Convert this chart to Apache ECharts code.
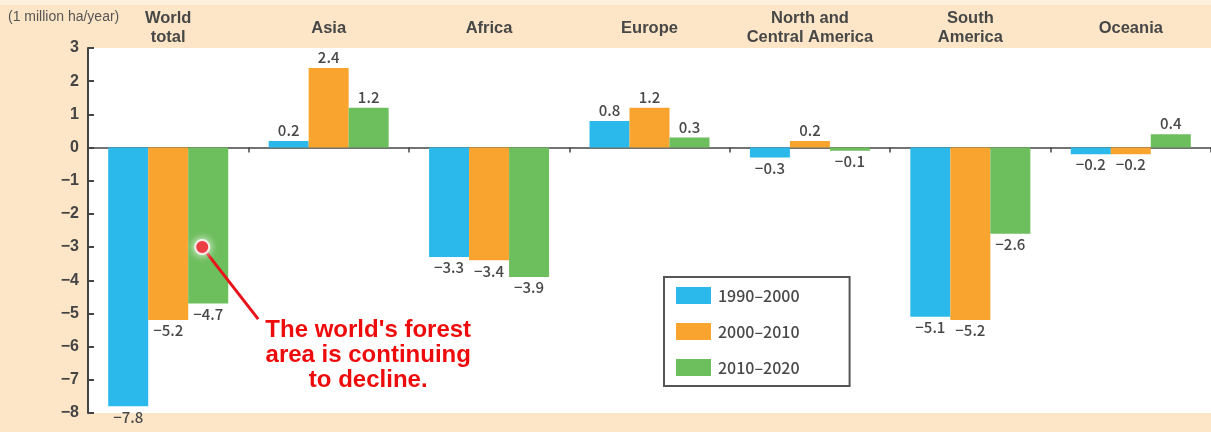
<!DOCTYPE html>
<html>
<head>
<meta charset="utf-8">
<script src="https://cdn.jsdelivr.net/npm/echarts@6/dist/echarts.min.js"></script>
<style>
  html, body { margin: 0; padding: 0; background: #fde6c7; }
  #chart { width: 1211px; height: 432px; }
</style>
</head>
<body>
<div id="chart"></div>
<script>
// Annual net change in forest area by region (million ha per year)
const regions = ['World\ntotal', 'Asia', 'Africa', 'Europe', 'North and\nCentral America', 'South\nAmerica', 'Oceania'];
const periods = ['1990–2000', '2000–2010', '2010–2020'];
const change1990 = [-7.8, 0.2, -3.3, 0.8, -0.3, -5.1, -0.2];
const change2000 = [-5.2, 2.4, -3.4, 1.2, 0.2, -5.2, -0.2];
const change2010 = [-4.7, 1.2, -3.9, 0.3, -0.1, -2.6, 0.4];
const yTicks = { min: -8, max: 3, step: 1 };
const unitLabel = '(1 million ha/year)';
const calloutText = "The world's forest\narea is continuing\nto decline.";
const calloutValue = -3; // point on the world-total 2010–2020 bar

const colors = ['#2bb8ea', '#f8a42e', '#6dbe5c'];
const seriesValues = [change1990, change2000, change2010];

const fmt = v => (v < 0 ? '−' + Math.abs(v) : String(v));

const chart = echarts.init(document.getElementById('chart'));

const series = periods.map((name, i) => ({
  name,
  type: 'bar',
  xAxisIndex: 0,
  barWidth: 40,
  barGap: '0%',
  itemStyle: { color: colors[i] },
  data: seriesValues[i].map(v => ({
    value: v,
    label: { position: v >= 0 ? 'top' : 'bottom' }
  })),
  label: {
    show: true,
    distance: 3,
    color: '#484848',
    fontFamily: 'Noto Sans CJK JP',
    fontWeight: 500,
    fontSize: 15,
    formatter: p => fmt(p.value)
  }
}));

chart.setOption({
  backgroundColor: '#fde6c7',
  animation: false,
  grid: {
    left: 88, right: 0, top: 48, bottom: 19,
    show: true, backgroundColor: '#ffffff', borderWidth: 0
  },
  xAxis: [
    {
      type: 'category',
      data: regions,
      position: 'bottom',
      axisLine: { onZero: true, lineStyle: { color: '#444', width: 1.5 } },
      axisTick: { show: true, length: 5, lineStyle: { color: '#444', width: 1.5 } },
      axisLabel: { show: false }
    },
    {
      type: 'category',
      data: regions,
      position: 'top',
      axisLine: { show: false, onZero: false },
      axisTick: { show: false },
      axisLabel: {
        margin: 20,
        verticalAlign: 'middle',
        color: '#474747',
        fontFamily: 'Liberation Sans',
        fontWeight: 'bold',
        fontSize: 16.5,
        lineHeight: 19,
        interval: 0
      }
    }
  ],
  yAxis: {
    type: 'value',
    min: yTicks.min, max: yTicks.max, interval: yTicks.step,
    axisLine: { show: true, onZero: false, lineStyle: { color: '#444', width: 2 } },
    axisTick: { show: true, inside: true, length: 6, lineStyle: { color: '#444', width: 2 } },
    splitLine: { show: false },
    axisLabel: {
      margin: 9,
      color: '#444',
      fontFamily: 'Liberation Sans',
      fontWeight: 'bold',
      fontSize: 16,
      formatter: v => fmt(v)
    }
  },
  legend: {
    orient: 'vertical',
    left: 664, top: 277,
    padding: [10, 50, 10, 12],
    itemWidth: 35, itemHeight: 17, itemGap: 19,
    backgroundColor: '#ffffff',
    borderColor: '#555',
    borderWidth: 2,
    icon: 'rect',
    textStyle: { color: '#484848', fontFamily: 'Noto Sans CJK JP', fontWeight: 500, fontSize: 16, padding: [0, 0, 0, 2] },
    data: periods
  },
  series
});

// Unit caption, top band strip and callout, placed from the chart's own scales
function drawExtras() {
  const dot = chart.convertToPixel({ xAxisIndex: 0, yAxisIndex: 0 }, [regions[0], calloutValue]);
  const dotX = dot[0] + 34;
  const dotY = dot[1];
  chart.setOption({
    graphic: [
      { type: 'rect', z: -1, shape: { x: 0, y: 0, width: 1211, height: 5 }, style: { fill: '#fdf1de' } },
      {
        type: 'text', left: 8, top: 10,
        style: { text: unitLabel, fill: '#555', font: '14px "Liberation Sans"' }
      },
      {
        type: 'line', z: 10,
        shape: { x1: dotX, y1: dotY, x2: dotX + 56, y2: dotY + 72 },
        style: { stroke: '#e8131b', lineWidth: 3 }
      },
      {
        type: 'circle', z: 11,
        shape: { cx: dotX, cy: dotY, r: 7 },
        style: { fill: '#e8131b', stroke: 'rgba(255,255,255,0.85)', lineWidth: 2, shadowBlur: 8, shadowColor: 'rgba(255,255,255,1)' }
      },
      {
        type: 'text', z: 11,
        x: dotX + 166, y: dotY + 71,
        style: {
          text: calloutText,
          fill: '#ee0b0b',
          font: 'bold 24px "Liberation Sans"',
          lineHeight: 25,
          align: 'center',
          verticalAlign: 'top'
        }
      }
    ]
  });
}
drawExtras();
</script>
</body>
</html>
